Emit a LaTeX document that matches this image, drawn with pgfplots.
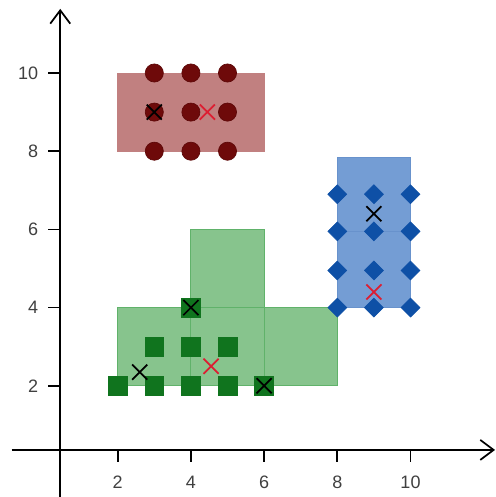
\documentclass[border=0pt]{standalone}
\usepackage{pgfplots}
\pgfplotsset{compat=1.18}
\usepackage{fontspec}
\setmainfont{Liberation Sans}
\usetikzlibrary{arrows.meta}

\definecolor{redcell}{RGB}{193,128,128}
\definecolor{redpt}{RGB}{110,10,10}
\definecolor{greencell}{RGB}{135,196,141}
\definecolor{greenedge}{RGB}{96,178,106}
\definecolor{greenpt}{RGB}{16,116,30}
\definecolor{bluecell}{RGB}{116,157,212}
\definecolor{blueedge}{RGB}{104,146,204}
\definecolor{bluept}{RGB}{14,80,166}
\definecolor{newc}{RGB}{220,30,50}
\definecolor{ticktext}{RGB}{64,64,64}

% cluster members
\pgfplotstableread{
x y
3 10
4 10
5 10
3 9
4 9
5 9
3 8
4 8
5 8
}\redpts
\pgfplotstableread{
x y
2 2
3 2
4 2
5 2
6 2
3 3
4 3
5 3
4 4
}\greenpts
\pgfplotstableread{
x y
8 6.9
9 6.9
10 6.9
8 5.95
9 5.95
10 5.95
8 4.95
9 4.95
10 4.95
8 4
9 4
10 4
}\bluepts
% previous centres (black) and updated centres (red)
\pgfplotstableread{
x y
3 9
9 6.4
4 4
6 2
2.6 2.35
}\oldc
\pgfplotstableread{
x y
4.45 9
9 4.4
4.55 2.5
}\newcent

\begin{document}
\begin{tikzpicture}
\begin{axis}[
  x=27.45pt, y=29.325pt,
  xmin=0.43, xmax=12.31, ymin=0.36, ymax=11.64,
  axis lines=left,
  clip=false,
  axis line style={line width=1.5pt, black},
  x axis line style={-{Straight Barb[length=10pt,width=15pt,line width=1.3pt]}},
  y axis line style={-{Straight Barb[length=10pt,width=15pt,line width=1.3pt]}},
  xtick={2,4,6,8,10}, ytick={2,4,6,8,10},
  tick align=outside, major tick length=9pt,
  tick style={line width=1.3pt, black},
  ticklabel style={font=\fontsize{13.5}{16}\selectfont, text=ticktext},
  xticklabel style={yshift=-7pt},
  yticklabel style={xshift=-4pt},
  /pgf/number format/assume math mode=true,
]
% grid cells of each cluster
\addplot[fill=redcell, draw=redcell, mark=none] coordinates {(2,8) (6,8) (6,10) (2,10)} --cycle;
\addplot[fill=greencell, draw=greenedge, line width=0.8pt, mark=none] coordinates {(2,2) (4,2) (4,4) (2,4)} --cycle;
\addplot[fill=greencell, draw=greenedge, line width=0.8pt, mark=none] coordinates {(4,2) (6,2) (6,4) (4,4)} --cycle;
\addplot[fill=greencell, draw=greenedge, line width=0.8pt, mark=none] coordinates {(6,2) (8,2) (8,4) (6,4)} --cycle;
\addplot[fill=greencell, draw=greenedge, line width=0.8pt, mark=none] coordinates {(4,4) (6,4) (6,6) (4,6)} --cycle;
\addplot[fill=bluecell, draw=blueedge, line width=0.8pt, mark=none] coordinates {(8,4) (10,4) (10,5.95) (8,5.95)} --cycle;
\addplot[fill=bluecell, draw=blueedge, line width=0.8pt, mark=none] coordinates {(8,5.95) (10,5.95) (10,7.85) (8,7.85)} --cycle;

% points
\addplot[only marks, mark=*, mark size=6.8pt, mark options={fill=redpt, draw=redpt!85!black, line width=0.5pt}] table {\redpts};
\addplot[only marks, mark=square*, mark size=7pt, mark options={fill=greenpt, draw=greenpt, line width=0.5pt}] table {\greenpts};
\addplot[only marks, mark=square*, mark size=5pt, mark options={rotate=45, fill=bluept, draw=bluept, line width=0.5pt}] table {\bluepts};

% centres
\addplot[only marks, mark=x, mark size=8pt, mark options={black, line width=1.3pt}] table {\oldc};
\addplot[only marks, mark=x, mark size=8pt, mark options={newc, line width=1.3pt}] table {\newcent};

% axis lines continue past the crossing point
\draw[line width=1.5pt] (axis cs:-0.9,0.36) -- (axis cs:0.43,0.36);
\draw[line width=1.5pt] (axis cs:0.43,-1.0) -- (axis cs:0.43,0.36);

\coordinate (bbsw) at (axis cs:-1.216,-0.844);
\coordinate (bbne) at (axis cs:12.336,11.867);
\end{axis}
\pgfresetboundingbox
\path[use as bounding box] (bbsw) rectangle (bbne);
\end{tikzpicture}
\end{document}
